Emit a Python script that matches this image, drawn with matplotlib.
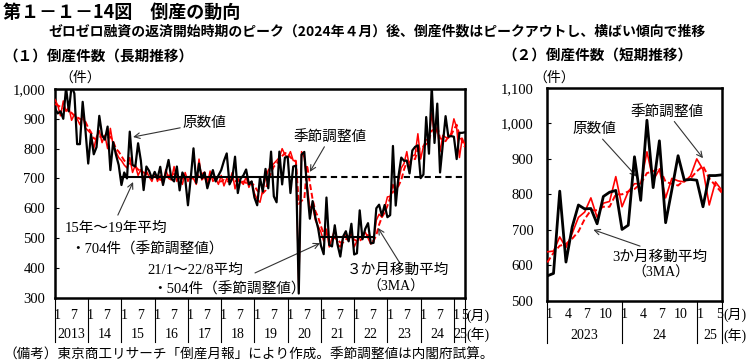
import numpy as np
import matplotlib
matplotlib.use('Agg')
import matplotlib.pyplot as plt

plt.rcParams['font.family'] = ['Liberation Serif', 'Noto Sans CJK JP']
GOTHIC = ['Noto Sans CJK JP', 'DejaVu Sans']

# ---- data: long chart, Jan 2013 - May 2025 (monthly) ----
raw_long = [
    935, 918, 925, 900, 1005, 925, 1010, 985, 815, 815, 957, 862,   # 2013
    750, 848, 781, 805, 910, 846, 830, 874, 728, 822, 780, 745,     # 2014
    678, 720, 700, 857, 745, 740, 818, 760, 661, 740, 725, 700,     # 2015
    722, 700, 739, 678, 720, 762, 700, 690, 740, 660, 720, 700,     # 2016
    610, 700, 801, 685, 750, 700, 720, 667, 700, 728, 690, 710,     # 2017
    728, 759, 784, 680, 700, 773, 651, 700, 710, 730, 680, 690,     # 2018
    636, 610, 703, 656, 732, 667, 790, 640, 620, 790, 680, 770,     # 2019
    773, 651, 740, 743, 314, 780, 789, 667, 565, 624, 569, 532,     # 2020
    475, 446, 636, 477, 472, 543, 478, 438, 505, 523, 489, 548,     # 2021
    445, 449, 593, 496, 531, 550, 482, 484, 600, 612, 575, 611,     # 2022
    570, 577, 809, 609, 708, 770, 759, 760, 717, 794, 806, 811,     # 2023
    701, 713, 906, 783, 1009, 819, 951, 720, 813, 909, 840, 842,    # 2024
    840, 765, 853, 853, 855,                                        # 2025
]
sa_long = [
    965, 945, 910, 960, 925, 940, 895, 915, 900, 880, 915, 870,
    860, 850, 800, 840, 860, 820, 845, 800, 868, 810, 790, 770,
    760, 745, 735, 770, 720, 745, 710, 730, 700, 725, 705, 690,
    720, 690, 710, 680, 730, 700, 695, 740, 690, 705, 680, 720,
    690, 710, 700, 680, 765, 695, 705, 680, 725, 690, 700, 680,
    710, 675, 700, 690, 720, 665, 700, 690, 680, 705, 670, 690,
    650, 630, 620, 660, 700, 728, 740, 750, 760, 770, 800, 780,
    770, 790, 760, 760, 330, 790, 770, 680, 600, 610, 560, 540,
    520, 490, 530, 470, 500, 530, 480, 470, 500, 510, 490, 520,
    470, 490, 500, 510, 520, 500, 480, 490, 560, 580, 570, 600,
    638, 640, 680, 650, 690, 735, 750, 790, 735, 775, 780, 850,
    765, 808, 830, 830, 920, 840, 870, 790, 845, 838, 835, 852,
    900, 870, 770, 835, 812,
]
ma_long = [
    950, 945, 940, 935, 930, 925, 920, 910, 905, 900, 895, 890,
    870, 855, 835, 830, 840, 840, 835, 835, 840, 825, 800, 790,
    775, 760, 750, 750, 745, 740, 730, 725, 720, 715, 710, 705,
    705, 705, 695, 700, 705, 710, 710, 715, 710, 700, 700, 705,
    705, 700, 700, 695, 715, 715, 720, 695, 700, 700, 705, 690,
    690, 695, 690, 690, 695, 690, 695, 685, 690, 685, 690, 685,
    675, 660, 650, 650, 660, 695, 720, 740, 750, 760, 775, 785,
    785, 770, 765, 755, 615, 625, 630, 745, 685, 630, 590, 570,
    540, 515, 515, 500, 500, 500, 495, 485, 485, 495, 505, 505,
    495, 490, 490, 500, 510, 510, 500, 490, 510, 545, 570, 585,
    608, 635, 655, 660, 675, 695, 730, 755, 755, 765, 765, 800,
    800, 808, 815, 830, 860, 865, 875, 835, 830, 825, 840, 845,
    865, 880, 845, 825, 805,
]
avg_1519 = 704
avg_2122 = 504

# ---- data: short chart, Jan 2023 - May 2025 ----
raw_short = [570, 577, 809, 609, 708, 770, 759, 760, 717, 794, 806, 811,
             701, 713, 906, 783, 1009, 819, 951, 720, 813, 909, 840, 842,
             840, 765, 853, 853, 855]
sa_short = [638, 640, 680, 650, 690, 735, 750, 790, 735, 775, 780, 850,
            765, 808, 830, 830, 920, 840, 870, 790, 845, 838, 835, 852,
            900, 870, 770, 835, 812]
ma_short = [608, 635, 655, 660, 675, 695, 730, 755, 755, 765, 765, 800,
            800, 808, 815, 830, 860, 865, 875, 835, 830, 825, 840, 845,
            865, 880, 845, 825, 805]

long_years = ['2013', '14', '15', '16', '17', '18', '19', '20', '21', '22', '23', '24', '25']
short_years = ['2023', '24', '25']

fig = plt.figure(figsize=(7.53, 3.63), dpi=100)

ax1 = fig.add_axes([0.0730, 0.1799, 0.5445, 0.5749])
ax2 = fig.add_axes([0.7268, 0.1716, 0.2316, 0.5860])

arrow = dict(arrowstyle='->', color='#333333', lw=0.8, shrinkA=0, shrinkB=0, mutation_scale=10)

# ---------------- long chart ----------------
n1 = len(raw_long)
x1 = np.arange(n1)
ax1.plot(x1, sa_long, color='red', lw=1.1, zorder=3)
ax1.plot(x1, ma_long, color='red', lw=1.4, ls=(0, (3, 1.5)), zorder=3)
ax1.plot(x1, raw_long, color='black', lw=1.6, zorder=4)
ax1.plot([24, 92], [avg_1519, avg_1519], color='black', lw=1.5, zorder=5)
ax1.plot([92, n1 - 1], [avg_1519, avg_1519], color='black', lw=1.5, ls=(0, (3, 2)), zorder=5)
ax1.plot([96, 115], [avg_2122, avg_2122], color='black', lw=1.5, zorder=5)

ax1.set_xlim(0, n1 - 1)
ax1.set_ylim(300, 1000)
ax1.set_yticks(range(300, 1001, 100))
ax1.set_yticklabels(['{:,}'.format(v) for v in range(300, 1001, 100)], fontsize=10.5)
ax1.tick_params(axis='y', direction='in', length=3, pad=7)
ax1.set_xticks([])
for s in ax1.spines.values():
    s.set_linewidth(1.8)

xt = ax1.get_xaxis_transform()
for i, yr in enumerate(long_years):
    b = 12 * i
    ax1.plot([b, b], [0, -0.21], transform=xt, color='black', lw=0.8, clip_on=False)
    ax1.text(b + 0.9, -0.085, '1', transform=xt, ha='center', va='center', fontsize=10)
    if b + 6 < n1:
        ax1.text(b + 6.8, -0.085, '7', transform=xt, ha='center', va='center', fontsize=10)
        ax1.text(b + 6, -0.175, yr, transform=xt, ha='center', va='center', fontsize=10)
    else:
        ax1.text(n1 - 1.3, -0.085, '5', transform=xt, ha='center', va='center', fontsize=10)
        ax1.text(b + 2.2, -0.175, yr, transform=xt, ha='center', va='center', fontsize=10)
ax1.plot([n1 - 1, n1 - 1], [0, -0.21], transform=xt, color='black', lw=0.8, clip_on=False)
ax1.text(1.003, -0.085, '(月)', transform=ax1.transAxes, ha='left', va='center', fontsize=10)
ax1.text(1.003, -0.175, '(年)', transform=ax1.transAxes, ha='left', va='center', fontsize=10)

ax1.annotate('原数値', xy=(28.2, 839), xytext=(46.2, 886), fontsize=10.5,
             ha='left', va='center', arrowprops=arrow)
ax1.annotate('季節調整値', xy=(92, 722), xytext=(99.3, 839), fontsize=10.5,
             ha='center', va='center', arrowprops=arrow)
ax1.annotate('', xy=(28.2, 688), xytext=(22.7, 577), arrowprops=arrow)
ax1.text(3.6, 534, '15年～19年平均', fontsize=10.5, ha='left', va='center')
ax1.text(5.4, 463, '・704件（季節調整値）', fontsize=10.5, ha='left', va='center')
ax1.annotate('', xy=(95.7, 483), xytext=(72.2, 383), arrowprops=arrow)
ax1.text(33.2, 393, '21/1～22/8平均', fontsize=10.5, ha='left', va='center')
ax1.text(35, 329, '・504件（季節調整値）', fontsize=10.5, ha='left', va='center')
ax1.annotate('', xy=(116.6, 534), xytext=(124.5, 416), arrowprops=arrow)
ax1.text(105.4, 393, '３か月移動平均', fontsize=10.5, ha='left', va='center')
ax1.text(123, 336, '（3MA）', fontsize=10, ha='center', va='center')

# ---------------- short chart ----------------
n2 = len(raw_short)
x2 = np.arange(n2)
ax2.plot(x2, sa_short, color='red', lw=1.2, zorder=3)
ax2.plot(x2, ma_short, color='red', lw=1.4, ls=(0, (3, 1.5)), zorder=3)
ax2.plot(x2, raw_short, color='black', lw=2.0, zorder=4)

ax2.set_xlim(0, n2 - 1)
ax2.set_ylim(500, 1100)
ax2.set_yticks(range(500, 1101, 100))
ax2.set_yticklabels(['{:,}'.format(v) for v in range(500, 1101, 100)], fontsize=10.5)
ax2.tick_params(axis='y', direction='in', length=3, pad=10)
ax2.set_xticks([])
for s in ax2.spines.values():
    s.set_linewidth(1.8)

xt2 = ax2.get_xaxis_transform()
for i, yr in enumerate(short_years):
    b = 12 * i
    ax2.plot([b, b], [0, -0.20], transform=xt2, color='black', lw=0.8, clip_on=False)
    if b + 11 < n2:
        for j, lab in zip([0, 3, 6, 9], ['1', '4', '7', '10']):
            ax2.text(b + j + 0.35, -0.067, lab, transform=xt2, ha='center', va='center', fontsize=10)
        ax2.text(b + 6, -0.165, yr, transform=xt2, ha='center', va='center', fontsize=10)
    else:
        ax2.text(b + 0.5, -0.067, '1', transform=xt2, ha='center', va='center', fontsize=10)
        ax2.text(n2 - 1.3, -0.067, '5', transform=xt2, ha='center', va='center', fontsize=10)
        ax2.text(b + 2.1, -0.165, yr, transform=xt2, ha='center', va='center', fontsize=10)
ax2.plot([n2 - 1, n2 - 1], [0, -0.20], transform=xt2, color='black', lw=0.8, clip_on=False)
ax2.text(1.008, -0.067, '(月)', transform=ax2.transAxes, ha='left', va='center', fontsize=10)
ax2.text(1.008, -0.165, '(年)', transform=ax2.transAxes, ha='left', va='center', fontsize=10)

ax2.annotate('原数値', xy=(14.35, 850), xytext=(4, 982), fontsize=10.5,
             ha='left', va='center', arrowprops=arrow)
ax2.annotate('季節調整値', xy=(25, 902), xytext=(13.3, 1033), fontsize=10.5,
             ha='left', va='center', arrowprops=arrow)
ax2.annotate('', xy=(7.4, 700), xytext=(14.9, 654), arrowprops=arrow)
ax2.text(10.4, 624, '3か月移動平均', fontsize=10.5, ha='left', va='center')
ax2.text(18.3, 578, '（3MA）', fontsize=10, ha='center', va='center')

# ---------------- titles ----------------
fig.text(0.004, 0.967, '第１－１－14図　倒産の動向', fontsize=13, fontweight='bold',
         family=GOTHIC, ha='left', va='center')
fig.text(0.064, 0.912, 'ゼロゼロ融資の返済開始時期のピーク（2024年４月）後、倒産件数はピークアウトし、横ばい傾向で推移',
         fontsize=10, fontweight='bold', family=GOTHIC, ha='left', va='center')
fig.text(0.004, 0.848, '（１）倒産件数（長期推移）', fontsize=10.5, fontweight='bold',
         family=GOTHIC, ha='left', va='center')
fig.text(0.667, 0.848, '（２）倒産件数（短期推移）', fontsize=10.5, fontweight='bold',
         family=GOTHIC, ha='left', va='center')
fig.text(0.106, 0.785, '（件）', fontsize=10, ha='center', va='center')
fig.text(0.736, 0.785, '（件）', fontsize=10, ha='center', va='center')
fig.text(0.004, 0.022, '（備考）東京商工リサーチ「倒産月報」により作成。季節調整値は内閣府試算。',
         fontsize=9.8, ha='left', va='center')

fig.savefig('out.png', dpi=100)
